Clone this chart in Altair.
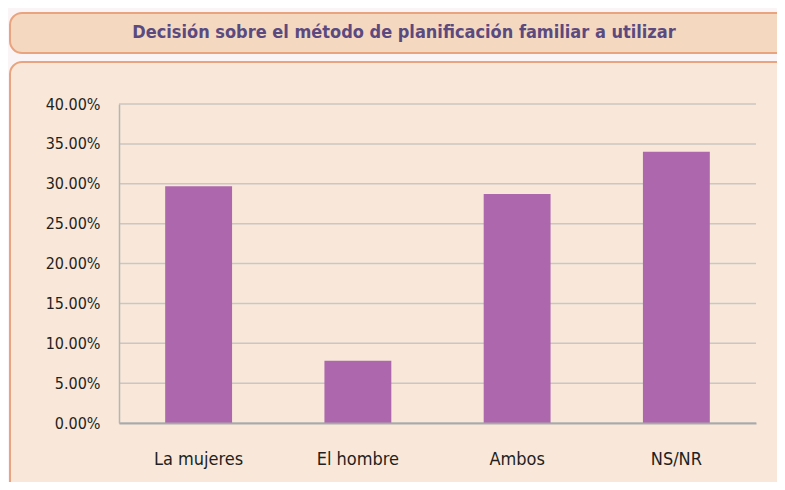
import altair as alt
import pandas as pd

categories = ["La mujeres", "El hombre", "Ambos", "NS/NR"]
values = [0.297, 0.078, 0.287, 0.340]
y_ticks = [0.0, 0.05, 0.10, 0.15, 0.20, 0.25, 0.30, 0.35, 0.40]
title_text = "Decisión sobre el método de planificación familiar a utilizar"

df = pd.DataFrame({"cat": categories, "val": values})
grid_df = pd.DataFrame({"t": y_ticks})
one = pd.DataFrame({"a": [0]})

FONT = "Liberation Sans Narrow, DejaVu Sans Condensed, Roboto, sans-serif"
W, H = 637, 319

yscale = alt.Scale(domain=[0, 0.40], nice=False, zero=True)
yaxis = alt.Axis(
    title=None, values=y_ticks, format=".2%", grid=False, ticks=False,
    domainColor="#B5B5B5", domainWidth=1.5, labelFont=FONT, labelFontSize=16,
    labelColor="#231F20", labelPadding=19, zindex=1, labelOverlap=False,
)

title_box = alt.Chart(one).mark_rect(
    fill="#F5D8C0", stroke="#E8A47E", strokeWidth=2, cornerRadius=12
).encode(x=alt.value(-109), x2=alt.value(700), y=alt.value(-91), y2=alt.value(-51))

main_box = alt.Chart(one).mark_rect(
    fill="#F9E8DA", stroke="#E8A47E", strokeWidth=2, cornerRadius=12
).encode(x=alt.value(-109), x2=alt.value(700), y=alt.value(-42), y2=alt.value(420))

grid = alt.Chart(grid_df).mark_rule(color="#CBC6C2", strokeWidth=1.5).encode(
    y=alt.Y("t:Q", scale=yscale, axis=yaxis),
    x=alt.value(0),
    x2=alt.value(W),
)

bars = alt.Chart(df).mark_bar(color="#AD67AD").encode(
    x=alt.X(
        "cat:N",
        sort=categories,
        scale=alt.Scale(paddingInner=0.58, paddingOuter=0.29),
        axis=alt.Axis(
            title=None, labelAngle=0, ticks=False, domainColor="#A9A9A9",
            domainWidth=2, labelFont=FONT, labelFontSize=18, labelColor="#231F20",
            labelPadding=27, zindex=1,
        ),
    ),
    y=alt.Y("val:Q", scale=yscale, axis=yaxis),
)

title = alt.Chart(one).mark_text(
    text=title_text, font=FONT, fontSize=18, fontWeight="bold", color="#5A4A80",
    align="center", baseline="middle",
).encode(x=alt.value(285), y=alt.value(-71))

chart = alt.layer(title_box, main_box, grid, bars, title).properties(
    width=W, height=H,
    background="#FBF4F6",
    padding={"left": 111, "top": 96, "right": 21, "bottom": 59},
    autosize=alt.AutoSizeParams(type="none"),
).configure_view(stroke=None).configure_axis(labelOverlap=False)

chart.save("out.html", embed_options={"renderer": "svg", "actions": False})
